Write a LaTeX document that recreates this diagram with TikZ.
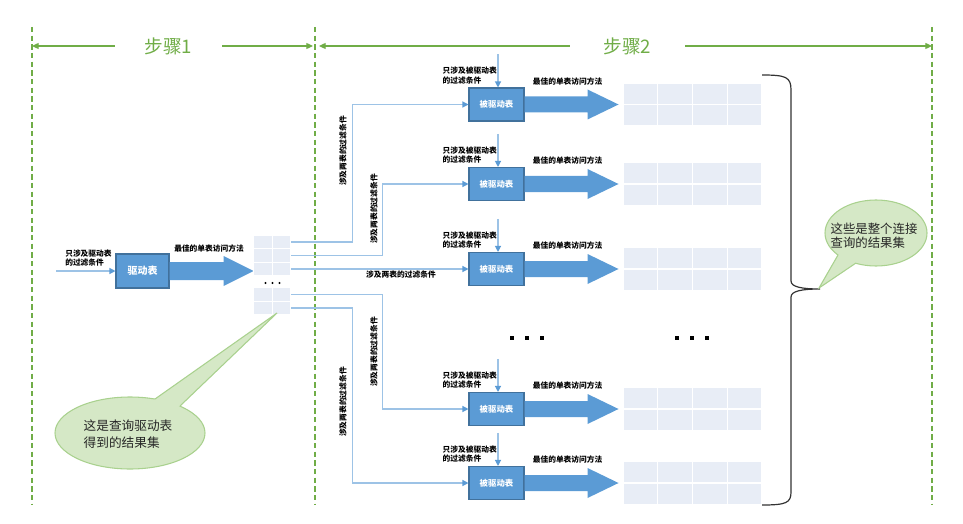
\documentclass[tikz,border=0pt]{standalone}
\usepackage{fontspec}
\setmainfont{Noto Sans CJK SC}
\usetikzlibrary{arrows.meta,calc}
\definecolor{stepgreen}{HTML}{70AD47}
\definecolor{boxblue}{HTML}{5B9BD5}
\definecolor{boxborder}{HTML}{41719C}
\definecolor{linkblue}{HTML}{9DC3E6}
\definecolor{cellfill}{HTML}{E8EDF6}
\definecolor{callfill}{HTML}{D5E8C6}
\definecolor{callborder}{HTML}{A9D18E}
\definecolor{bracecol}{HTML}{333333}
\begin{document}
\begin{tikzpicture}[x=0.75pt,y=-0.75pt,
  sepline/.style={stepgreen, line width=1.8pt, dash pattern=on 4pt off 2.5pt},
  steparrow/.style={stepgreen, line width=0.9pt, -{Triangle[length=5pt,width=4.5pt]}},
  steptitle/.style={text=stepgreen, font=\fontsize{14}{16}\selectfont, inner sep=0pt},
  dbox/.style={draw=boxborder, fill=boxblue, line width=0.8pt, minimum width=41.25pt, minimum height=24.75pt, inner sep=0pt, text=white, font=\fontsize{6.3}{8}\selectfont\bfseries},
  mainbox/.style={dbox, minimum width=39.75pt, minimum height=25.5pt, font=\fontsize{7.5}{9}\selectfont\bfseries},
  link/.style={linkblue, line width=0.9pt},
  linkarrow/.style={link, -{Triangle[length=4.5pt,width=4.5pt,color=boxblue]}},
  small/.style={font=\fontsize{5.8}{7.2}\selectfont\bfseries, inner sep=0pt, align=left},
  scell/.style={fill=cellfill, draw=white, line width=0.75pt, minimum width=13.9pt, minimum height=10.1pt, inner sep=0pt},
  bcell/.style={fill=cellfill, draw=white, line width=0.9pt, minimum width=26pt, minimum height=16.1pt, inner sep=0pt},
  bigarrow/.style={fill=boxblue},
  callout/.style={fill=callfill, draw=callborder, line width=0.8pt},
  calltext/.style={font=\fontsize{9.5}{12.5}\selectfont, align=left, inner sep=0pt, text=black!85},
  dotsq/.style={fill=black, minimum size=3pt, inner sep=0pt}
]
\useasboundingbox (0,0) rectangle (963,524);

% separators
\coordinate (d1t) at (32,27);  \coordinate (d1b) at (32,505);
\coordinate (d2t) at (315,27); \coordinate (d2b) at (315,505);
\coordinate (d3t) at (932,27); \coordinate (d3b) at (932,505);
\draw[sepline] (d1t) -- (d1b);
\draw[sepline] (d2t) -- (d2b);
\draw[sepline] (d3t) -- (d3b);

% step titles
\node[steptitle, minimum width=80pt] (t1) at (168.5,46) {步骤1};
\node[steptitle, minimum width=86pt] (t2) at (627.5,46) {步骤2};
\draw[steparrow] (t1.west) -- (t1.west -| d1t);
\draw[steparrow, shorten >=1.5pt] (t1.east) -- (t1.east -| d2t);
\draw[steparrow, shorten >=3pt] (t2.west) -- (t2.west -| d2t);
\draw[steparrow] (t2.east) -- (t2.east -| d3t);

% step 1
\node[mainbox] (d0) at (142.5,271) {驱动表};
\coordinate (in0) at (56,271);
\draw[linkarrow] (in0) -- (d0.west);
\node[small, anchor=south west] (l0) at (65,267) {只涉及驱动表\\的过滤条件};
\fill[bigarrow] ($(d0.east)+(0,-9)$) -- ++(54,0) -- ++(0,-6) -- ++(30,15) -- ++(-30,15) -- ++(0,-6) -- ($(d0.east)+(0,9)$) -- cycle;
\node[small, anchor=west] (m0) at (174,249) {最佳的单表访问方法};

\foreach \n/\y in {1/242,2/255.5,3/269,4/294.5,5/308}{
  \node[scell] (sa\n) at (263,\y) {};
  \node[scell] (sb\n) at (281.5,\y) {};
}
\fill (265.5,283) circle (1.1);
\fill (272.5,283) circle (1.1);
\fill (279.5,283) circle (1.1);

% step 2 boxes
\foreach \i/\cy in {1/104.5,2/184,3/269,5/409,6/483}{
  \node[dbox] (b\i) at (496.5,\cy) {被驱动表};
  \coordinate (in\i) at ($(b\i.north)+(1.5,-33)$);
  \draw[linkarrow] (in\i) -- (in\i |- b\i.north);
  \node[small, anchor=south west] (q\i) at ($(b\i.north west)+(-26,-3)$) {只涉及被驱动表\\的过滤条件};
  \fill[bigarrow] ($(b\i.east)+(0,-8)$) -- ++(63,0) -- ++(0,-7) -- ++(31,15) -- ++(-31,15) -- ++(0,-7) -- ($(b\i.east)+(0,8)$) -- cycle;
  \node[small, anchor=south west] (m\i) at ($(b\i.north east)+(8,-2)$) {最佳的单表访问方法};
  \foreach \c in {0,1,2,3}{
    \node[bcell] (c\i-\c-0) at ({640.4+\c*34.75},{\cy-10.75}) {};
    \node[bcell] (c\i-\c-1) at ({640.4+\c*34.75},{\cy+10.75}) {};
  }
}

% connectors
\draw[linkarrow] (sb1.east) -- ++(61,0) |- (b1.west);
\draw[linkarrow] (sb2.east) -- ++(91,0) |- (b2.west);
\draw[linkarrow] (sb3.east) -- (b3.west);
\draw[linkarrow] (sb4.east) -- ++(91,0) |- (b5.west);
\draw[linkarrow] (sb5.east) -- ++(61,0) |- (b6.west);

\node[small, rotate=90] (v1) at (343,151) {涉及两表的过滤条件};
\node[small, rotate=90] (v2) at (374,209) {涉及两表的过滤条件};
\node[small] (h3) at (401,275) {涉及两表的过滤条件};
\node[small, rotate=90] (v5) at (374,352) {涉及两表的过滤条件};
\node[small, rotate=90] (v6) at (343,402) {涉及两表的过滤条件};

% big ellipses
\foreach \x in {512,527,542,677,692,707}{
  \node[dotsq] at (\x,338) {};
}

% brace
\draw[bracecol, line width=0.9pt] (762,75) .. controls (786,75) and (791,77) .. (791,90) -- (791,281)
  .. controls (791,287) and (802,289) .. (820,289)
  .. controls (802,289) and (791,291) .. (791,297) -- (791,492)
  .. controls (791,503) and (786,505) .. (762,505);

% left callout
\draw[callout] (130,433) ellipse [x radius=75, y radius=36];
\coordinate (lt) at (277,313);
\fill[callfill] (155,399) -- (lt) -- (180,406) -- (130,433) -- cycle;
\draw[callborder, line width=0.8pt] (155,399) -- (lt) -- (180,406);
\node[calltext] (ct1) at (128,434) {这是查询驱动表\\得到的结果集};

% right callout
\draw[callout] (876,233) ellipse [x radius=51, y radius=33];
\coordinate (rt) at (819,288);
\fill[callfill] (838,255) -- (rt) -- (856,263) -- (876,233) -- cycle;
\draw[callborder, line width=0.8pt] (838,255) -- (rt) -- (856,263);
\node[calltext, font=\fontsize{9.3}{10.8}\selectfont] (ct2) at (874,236) {这些是整个连接\\查询的结果集};

\end{tikzpicture}
\end{document}
